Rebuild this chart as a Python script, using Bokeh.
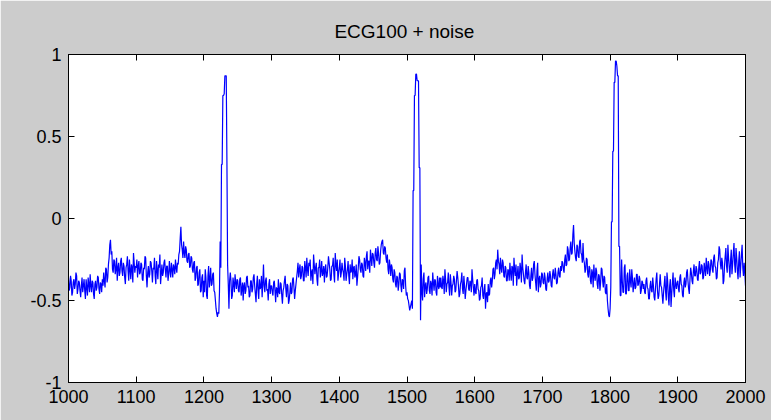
from bokeh.plotting import figure
from bokeh.models import Range1d, FixedTicker, ColumnDataSource, LinearAxis
from bokeh.embed import file_html
from bokeh.resources import INLINE

TITLE = "ECG100 +  noise"
X_START = 1000
X_MIN, X_MAX = 1000, 2000
Y_MIN, Y_MAX = -1, 1
X_TICKS = [1000, 1100, 1200, 1300, 1400, 1500, 1600, 1700, 1800, 1900, 2000]
Y_TICKS = [-1, -0.5, 0, 0.5, 1]

seg_1000 = [-0.36, -0.44, -0.42, -0.35, -0.38, -0.47, -0.45, -0.39, -0.37, -0.43,
            -0.40, -0.33, -0.35, -0.46, -0.43, -0.38, -0.39, -0.44, -0.48, -0.41,
            -0.36, -0.45, -0.41, -0.37, -0.44, -0.49, -0.37, -0.42, -0.47, -0.36,
            -0.40, -0.45, -0.34, -0.41, -0.45, -0.38, -0.39, -0.46, -0.49, -0.40,
            -0.38, -0.44, -0.42, -0.35, -0.36, -0.43, -0.46, -0.39, -0.40, -0.45]
seg_1050 = [-0.37, -0.41, -0.33, -0.38, -0.42, -0.30, -0.31, -0.39, -0.36, -0.28,
            -0.24, -0.16, -0.13, -0.22, -0.20, -0.31, -0.33, -0.25, -0.26, -0.34,
            -0.31, -0.24, -0.38, -0.30, -0.27, -0.35, -0.33, -0.26, -0.24, -0.32,
            -0.35, -0.27, -0.29, -0.36, -0.40, -0.30, -0.28, -0.23, -0.32, -0.38,
            -0.25, -0.31, -0.37, -0.28, -0.30, -0.39, -0.21, -0.27, -0.33, -0.29]
seg_1100 = [-0.30, -0.25, -0.36, -0.29, -0.26, -0.34, -0.33, -0.27, -0.28, -0.37,
            -0.38, -0.30, -0.31, -0.23, -0.24, -0.35, -0.42, -0.33, -0.29, -0.36,
            -0.34, -0.26, -0.27, -0.32, -0.39, -0.30, -0.31, -0.24, -0.35, -0.40,
            -0.26, -0.31, -0.37, -0.28, -0.30, -0.22, -0.40, -0.34, -0.28, -0.35,
            -0.33, -0.27, -0.25, -0.31, -0.36, -0.29, -0.29, -0.38, -0.34, -0.26]
seg_1150 = [-0.32, -0.36, -0.27, -0.31, -0.36, -0.28, -0.30, -0.34, -0.25, -0.30,
            -0.33, -0.27, -0.28, -0.22, -0.20, -0.12, -0.05, -0.16, -0.19, -0.24,
            -0.14, -0.21, -0.24, -0.17, -0.19, -0.26, -0.27, -0.22, -0.21, -0.30,
            -0.29, -0.23, -0.24, -0.31, -0.33, -0.27, -0.26, -0.38, -0.36, -0.30,
            -0.29, -0.41, -0.40, -0.33, -0.31, -0.45, -0.44, -0.36, -0.34, -0.48]
seg_1200 = [-0.38, -0.45, -0.31, -0.36, -0.47, -0.49, -0.35, -0.29, -0.42, -0.37,
            -0.30, -0.41, -0.40, -0.34, -0.33, -0.44, -0.45, -0.50, -0.55, -0.58,
            -0.60, -0.57, -0.58, -0.45, -0.14, -0.30, 0.33, 0.33, 0.75, 0.75,
            0.76, 0.87, 0.87, 0.87, 0.35, -0.28, -0.40, -0.55, -0.38, -0.33,
            -0.38, -0.49, -0.47, -0.36, -0.40, -0.45, -0.34, -0.39, -0.43, -0.37]
seg_1250 = [-0.38, -0.44, -0.45, -0.37, -0.36, -0.47, -0.43, -0.39, -0.50, -0.41,
            -0.39, -0.46, -0.44, -0.36, -0.35, -0.42, -0.41, -0.48, -0.47, -0.38,
            -0.38, -0.45, -0.43, -0.36, -0.34, -0.41, -0.46, -0.51, -0.40, -0.35,
            -0.44, -0.49, -0.37, -0.43, -0.42, -0.35, -0.48, -0.40, -0.28, -0.41,
            -0.45, -0.38, -0.36, -0.44, -0.43, -0.50, -0.40, -0.37, -0.46, -0.41]
seg_1300 = [-0.41, -0.45, -0.47, -0.39, -0.38, -0.44, -0.51, -0.42, -0.43, -0.48,
            -0.37, -0.45, -0.46, -0.39, -0.40, -0.47, -0.52, -0.44, -0.42, -0.38,
            -0.35, -0.43, -0.48, -0.40, -0.41, -0.52, -0.50, -0.45, -0.39, -0.46,
            -0.45, -0.37, -0.36, -0.42, -0.49, -0.44, -0.40, -0.36, -0.32, -0.27,
            -0.36, -0.31, -0.28, -0.37, -0.35, -0.29, -0.30, -0.38, -0.38, -0.26]
seg_1350 = [-0.30, -0.36, -0.24, -0.31, -0.35, -0.27, -0.29, -0.25, -0.38, -0.33,
            -0.31, -0.40, -0.22, -0.28, -0.34, -0.30, -0.27, -0.37, -0.41, -0.30,
            -0.30, -0.25, -0.36, -0.32, -0.26, -0.35, -0.33, -0.29, -0.39, -0.31,
            -0.28, -0.36, -0.35, -0.30, -0.23, -0.27, -0.31, -0.38, -0.37, -0.29,
            -0.29, -0.24, -0.34, -0.39, -0.21, -0.28, -0.32, -0.25, -0.38, -0.33]
seg_1400 = [-0.30, -0.25, -0.36, -0.33, -0.27, -0.31, -0.33, -0.38, -0.24, -0.29,
            -0.38, -0.34, -0.31, -0.26, -0.35, -0.40, -0.28, -0.33, -0.32, -0.25,
            -0.37, -0.30, -0.29, -0.36, -0.34, -0.28, -0.41, -0.36, -0.30, -0.23,
            -0.25, -0.31, -0.33, -0.27, -0.28, -0.35, -0.36, -0.24, -0.27, -0.32,
            -0.23, -0.20, -0.31, -0.26, -0.26, -0.33, -0.19, -0.24, -0.29, -0.21]
seg_1450 = [-0.22, -0.27, -0.30, -0.21, -0.18, -0.25, -0.26, -0.17, -0.21, -0.28,
            -0.27, -0.20, -0.16, -0.14, -0.13, -0.21, -0.22, -0.17, -0.18, -0.24,
            -0.27, -0.22, -0.31, -0.34, -0.25, -0.29, -0.35, -0.28, -0.30, -0.37,
            -0.39, -0.31, -0.33, -0.40, -0.42, -0.35, -0.36, -0.44, -0.40, -0.33,
            -0.34, -0.41, -0.45, -0.37, -0.38, -0.43, -0.32, -0.30, -0.41, -0.47]
seg_1500 = [-0.45, -0.49, -0.50, -0.53, -0.56, -0.54, -0.52, -0.50, -0.55, 0.17,
            0.17, 0.75, 0.75, 0.88, 0.88, 0.84, 0.84, 0.84, 0.31, 0.31,
            -0.62, -0.28, -0.45, -0.50, -0.37, -0.33, -0.48, -0.41, -0.39, -0.46,
            -0.43, -0.36, -0.35, -0.44, -0.46, -0.38, -0.40, -0.47, -0.33, -0.39,
            -0.44, -0.37, -0.38, -0.45, -0.47, -0.35, -0.41, -0.43, -0.36, -0.42]
seg_1550 = [-0.36, -0.42, -0.43, -0.35, -0.38, -0.46, -0.31, -0.37, -0.45, -0.40,
            -0.39, -0.33, -0.42, -0.47, -0.34, -0.39, -0.47, -0.41, -0.40, -0.35,
            -0.37, -0.45, -0.44, -0.38, -0.32, -0.36, -0.41, -0.48, -0.46, -0.40,
            -0.38, -0.33, -0.43, -0.46, -0.35, -0.41, -0.49, -0.44, -0.40, -0.36,
            -0.36, -0.43, -0.44, -0.38, -0.39, -0.45, -0.31, -0.37, -0.42, -0.47]
seg_1600 = [-0.40, -0.45, -0.46, -0.38, -0.37, -0.43, -0.44, -0.50, -0.49, -0.42,
            -0.41, -0.36, -0.47, -0.49, -0.43, -0.40, -0.55, -0.46, -0.45, -0.51,
            -0.40, -0.47, -0.46, -0.38, -0.36, -0.42, -0.38, -0.31, -0.30, -0.37,
            -0.34, -0.27, -0.25, -0.31, -0.19, -0.26, -0.28, -0.34, -0.24, -0.30,
            -0.33, -0.25, -0.27, -0.35, -0.36, -0.29, -0.30, -0.38, -0.38, -0.31]
seg_1650 = [-0.32, -0.38, -0.27, -0.33, -0.38, -0.29, -0.30, -0.41, -0.24, -0.31,
            -0.35, -0.28, -0.41, -0.34, -0.29, -0.37, -0.36, -0.27, -0.31, -0.39,
            -0.22, -0.30, -0.34, -0.38, -0.40, -0.33, -0.28, -0.36, -0.37, -0.29,
            -0.33, -0.41, -0.43, -0.35, -0.30, -0.38, -0.36, -0.28, -0.26, -0.34,
            -0.39, -0.44, -0.32, -0.27, -0.45, -0.37, -0.35, -0.42, -0.40, -0.33]
seg_1700 = [-0.34, -0.39, -0.40, -0.33, -0.36, -0.43, -0.44, -0.37, -0.33, -0.39,
            -0.38, -0.32, -0.35, -0.41, -0.42, -0.34, -0.31, -0.36, -0.37, -0.30,
            -0.34, -0.40, -0.39, -0.33, -0.30, -0.35, -0.36, -0.29, -0.32, -0.26,
            -0.27, -0.31, -0.33, -0.25, -0.22, -0.29, -0.28, -0.17, -0.19, -0.26,
            -0.25, -0.18, -0.14, -0.22, -0.21, -0.10, -0.04, -0.15, -0.20, -0.24]
seg_1750 = [-0.26, -0.16, -0.17, -0.23, -0.24, -0.14, -0.13, -0.21, -0.22, -0.27,
            -0.15, -0.25, -0.27, -0.33, -0.31, -0.24, -0.25, -0.34, -0.36, -0.29,
            -0.30, -0.38, -0.40, -0.31, -0.33, -0.42, -0.28, -0.35, -0.38, -0.30,
            -0.32, -0.40, -0.43, -0.34, -0.35, -0.44, -0.39, -0.30, -0.31, -0.38,
            -0.42, -0.35, -0.36, -0.45, -0.46, -0.40, -0.50, -0.55, -0.59, -0.60]
seg_1800 = [-0.55, -0.42, -0.02, -0.02, 0.41, 0.41, 0.83, 0.83, 0.96, 0.96,
            0.93, 0.87, 0.87, -0.17, -0.17, -0.47, -0.47, -0.25, -0.38, -0.45,
            -0.45, -0.30, -0.28, -0.46, -0.46, -0.35, -0.33, -0.44, -0.44, -0.31,
            -0.38, -0.42, -0.31, -0.36, -0.45, -0.40, -0.36, -0.43, -0.42, -0.34,
            -0.34, -0.41, -0.40, -0.35, -0.37, -0.46, -0.44, -0.38, -0.39, -0.43]
seg_1850 = [-0.40, -0.45, -0.46, -0.38, -0.36, -0.42, -0.43, -0.49, -0.49, -0.41,
            -0.38, -0.44, -0.45, -0.36, -0.41, -0.48, -0.50, -0.43, -0.37, -0.33,
            -0.44, -0.49, -0.47, -0.40, -0.34, -0.41, -0.42, -0.47, -0.52, -0.45,
            -0.40, -0.35, -0.45, -0.50, -0.33, -0.38, -0.48, -0.53, -0.41, -0.37,
            -0.54, -0.46, -0.39, -0.33, -0.44, -0.48, -0.36, -0.40, -0.43, -0.39]
seg_1900 = [-0.38, -0.43, -0.45, -0.36, -0.34, -0.40, -0.41, -0.47, -0.48, -0.39,
            -0.36, -0.42, -0.40, -0.33, -0.31, -0.38, -0.43, -0.46, -0.37, -0.30,
            -0.33, -0.38, -0.40, -0.32, -0.28, -0.35, -0.35, -0.29, -0.31, -0.37,
            -0.38, -0.30, -0.26, -0.34, -0.33, -0.28, -0.29, -0.37, -0.36, -0.27,
            -0.31, -0.35, -0.24, -0.30, -0.34, -0.26, -0.28, -0.35, -0.32, -0.25]
seg_1950 = [-0.26, -0.31, -0.33, -0.24, -0.22, -0.29, -0.30, -0.37, -0.36, -0.27,
            -0.25, -0.17, -0.19, -0.28, -0.31, -0.24, -0.27, -0.40, -0.38, -0.29,
            -0.23, -0.18, -0.29, -0.33, -0.16, -0.24, -0.30, -0.36, -0.25, -0.19,
            -0.34, -0.28, -0.21, -0.15, -0.28, -0.33, -0.18, -0.24, -0.32, -0.37,
            -0.26, -0.20, -0.36, -0.29, -0.22, -0.16, -0.30, -0.35, -0.27, -0.33]
seg_2000 = [-0.41]

ecg = (seg_1000 + seg_1050 + seg_1100 + seg_1150 + seg_1200 + seg_1250 + seg_1300 + seg_1350 +
       seg_1400 + seg_1450 + seg_1500 + seg_1550 + seg_1600 + seg_1650 + seg_1700 + seg_1750 +
       seg_1800 + seg_1850 + seg_1900 + seg_1950 + seg_2000)
samples = [X_START + i for i in range(len(ecg))]

FONT = "Liberation Sans"
BG = "#CCCCCC"

p = figure(width=771, height=420, output_backend="svg", toolbar_location=None,
           x_range=Range1d(X_MIN, X_MAX), y_range=Range1d(Y_MIN, Y_MAX),
           min_border_left=68, min_border_right=26, min_border_top=54, min_border_bottom=38,
           background_fill_color="white", border_fill_color=BG, title=TITLE)
p.title.align = "center"
p.title.text_font = FONT
p.title.text_font_size = "19px"
p.title.text_font_style = "normal"
p.title.text_color = "black"
p.title.standoff = 26

p.outline_line_color = "black"
p.outline_line_width = 1
p.outline_line_alpha = 1
p.xgrid.visible = False
p.ygrid.visible = False

src = ColumnDataSource(dict(x=samples, y=ecg))
p.line("x", "y", source=src, line_color="#0000FF", line_width=1.2)

def style(ax, ticks, labels=True):
    ax.ticker = FixedTicker(ticks=ticks)
    ax.major_tick_in = 6
    ax.major_tick_out = 0
    ax.minor_tick_in = 0
    ax.minor_tick_out = 0
    ax.axis_line_color = "black"
    ax.major_tick_line_color = "black"
    ax.major_label_text_font = FONT
    ax.major_label_text_font_size = "18px" if labels else "0px"
    ax.major_label_text_color = "black"
    ax.major_label_standoff = 7 if labels else 0

style(p.xaxis[0], X_TICKS)
style(p.yaxis[0], Y_TICKS)
p.yaxis[0].major_label_overrides = {-1: "-1", -0.5: "-0.5", 0: "0", 0.5: "0.5", 1: "1"}

top = LinearAxis()
style(top, X_TICKS, labels=False)
p.add_layout(top, "above")
right = LinearAxis()
style(right, Y_TICKS, labels=False)
p.add_layout(right, "right")

open("out.html", "w").write(file_html(p, INLINE))
